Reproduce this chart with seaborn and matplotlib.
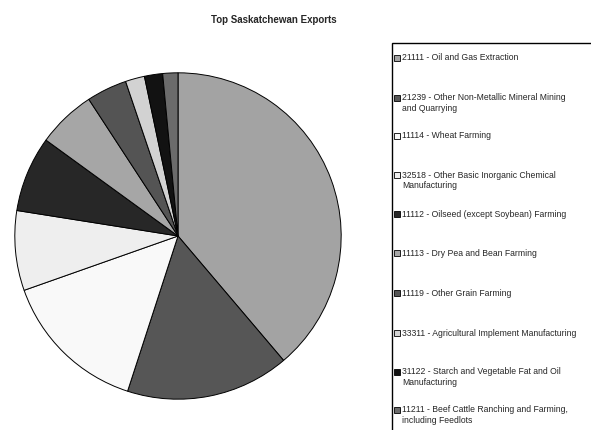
import matplotlib
matplotlib.use("Agg")
import matplotlib.pyplot as plt
from matplotlib.patches import Rectangle
import seaborn as sns

# Export shares by industry (fraction of total)
categories = [
    "21111 - Oil and Gas Extraction",
    "21239 - Other Non-Metallic Mineral Mining\nand Quarrying",
    "11114 - Wheat Farming",
    "32518 - Other Basic Inorganic Chemical\nManufacturing",
    "11112 - Oilseed (except Soybean) Farming",
    "11113 - Dry Pea and Bean Farming",
    "11119 - Other Grain Farming",
    "33311 - Agricultural Implement Manufacturing",
    "31122 - Starch and Vegetable Fat and Oil\nManufacturing",
    "11211 - Beef Cattle Ranching and Farming,\nincluding Feedlots",
]
shares = [38.8, 16.2, 14.6, 7.9, 7.5, 5.8, 4.0, 1.9, 1.8, 1.5]
grays = ["#a3a3a3", "#565656", "#f9f9f9", "#eeeeee", "#272727",
         "#a6a6a6", "#545454", "#d2d2d2", "#121212", "#6b6b6b"]
title = "Top Saskatchewan Exports"

sns.set_theme(style="white")
plt.rcParams["font.family"] = ["Liberation Sans", "DejaVu Sans"]

W, H = 591, 430
fig = plt.figure(figsize=(W / 100, H / 100), dpi=100)
fig.patch.set_facecolor("white")

# Pie axes: centre (177, 236) px, radius 164 px
cx, cy, r = 178, 236, 164
ax = fig.add_axes([(cx - r) / W, (H - cy - r) / H, 2 * r / W, 2 * r / H])
palette = sns.color_palette(grays)
ax.pie(shares, colors=palette, startangle=90, counterclock=False,
       wedgeprops=dict(edgecolor="black", linewidth=0.7))
ax.set_xlim(-1.005, 1.005)
ax.set_ylim(-1.005, 1.005)
ax.set_aspect("equal")
ax.axis("off")

fig.text(274 / W, 1 - 20 / H, title, ha="center", va="center",
         fontsize=7, fontweight="bold")

# Legend box on the right, running off the bottom and right edges
lx, ly = 392, 43
box = Rectangle((lx / W, -0.05), (W + 10 - lx) / W, 1.05 - ly / H,
                transform=fig.transFigure, facecolor="white",
                edgecolor="black", linewidth=1.0, clip_on=False)
fig.patches.append(box)

first_line_y = [58, 98, 136, 175, 214, 253, 293, 333, 372, 410]
for lab, col, y in zip(categories, palette, first_line_y):
    sw = Rectangle((394 / W, 1 - (y + 3) / H), 6 / W, 6 / H,
                   transform=fig.transFigure, facecolor=col,
                   edgecolor="black", linewidth=0.6)
    fig.patches.append(sw)
    fig.text(402.5 / W, 1 - (y - 4.5) / H, lab, ha="left", va="top",
             fontsize=6.2, linespacing=1.15)

fig.savefig("out.png", dpi=100, facecolor="white")
